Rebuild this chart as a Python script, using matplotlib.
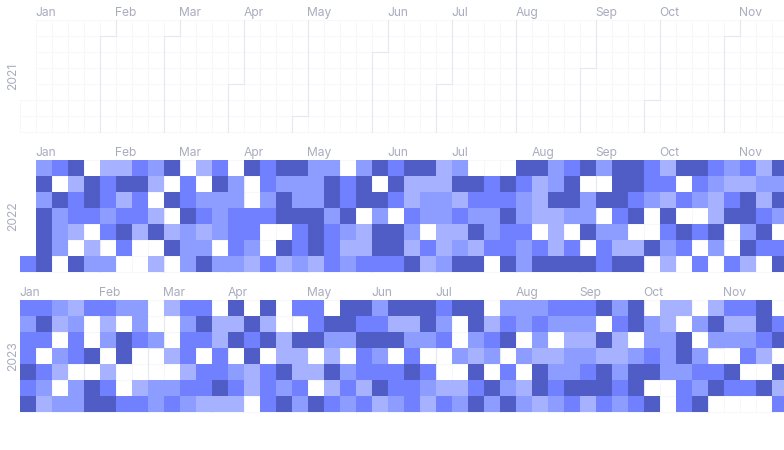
import datetime
import numpy as np
import matplotlib
matplotlib.use('Agg')
import matplotlib.pyplot as plt
from matplotlib.colors import ListedColormap
from matplotlib.patches import Rectangle

plt.rcParams['font.family'] = ['Inter', 'DejaVu Sans']

mois = ['Jan', 'Feb', 'Mar', 'Apr', 'May', 'Jun', 'Jul', 'Aug', 'Sep', 'Oct', 'Nov', 'Dec']
annees = [2021, 2022, 2023]
couleurs = ['#a6b2ff', '#8c9cff', '#7080ff', '#505dc6']

# niveaux, une liste par jour de la semaine (dimanche en haut)
# 0 = pas de valeur, -1 = jour hors de l'annee
niveaux_2022 = [
    [-1, 2, 3, 4, 0, 1, 1, 3, 2, 4, 0, 1, 3, 0, 4, 3, 4, 4, 2, 2, 0, 2, 4, 3, 4, 4, 1, 2, 0, 0, 0, 4, 4, 2, 3, 4, 2, 4, 4, 3, 1, 4, 4, 3, 2, 3, 1, 4],
    [-1, 4, 0, 1, 4, 3, 4, 4, 1, 0, 3, 0, 4, 2, 0, 3, 2, 2, 2, 4, 3, 4, 0, 4, 1, 1, 1, 4, 4, 3, 4, 3, 1, 2, 4, 0, 0, 4, 4, 3, 3, 0, 3, 2, 1, 1, 2, 2],
    [-1, 2, 4, 3, 4, 3, 1, 3, 0, 4, 3, 2, 2, 2, 0, 2, 4, 2, 2, 4, 3, 4, 4, 3, 1, 2, 2, 1, 3, 3, 3, 2, 1, 4, 4, 2, 4, 4, 3, 2, 1, 3, 2, 1, 3, 4, 1, 4],
    [-1, 4, 2, 3, 3, 2, 3, 3, 1, 0, 4, 3, 2, 3, 3, 3, 4, 4, 4, 2, 4, 0, 2, 0, 3, 2, 2, 3, 2, 2, 4, 2, 1, 1, 2, 2, 0, 3, 4, 0, 4, 0, 0, 1, 4, 4, 3, 2],
    [-1, 4, 2, 1, 0, 3, 4, 1, 4, 1, 2, 1, 2, 3, 3, 0, 0, 3, 4, 3, 2, 1, 4, 4, 2, 0, 1, 1, 4, 2, 3, 3, 0, 1, 0, 4, 2, 2, 0, 0, 3, 4, 3, 4, 0, 2, 4, 0],
    [-1, 4, 2, 0, 1, 0, 3, 0, 0, 4, 2, 2, 0, 3, 2, 0, 4, 3, 4, 3, 1, 1, 4, 4, 1, 3, 1, 2, 1, 3, 3, 2, 3, 1, 3, 0, 3, 1, 1, 4, 2, 3, 0, 2, 0, 4, 3, 3],
    [3, 4, 0, 4, 2, 2, 0, 0, 1, 0, 2, 4, 2, 2, 1, 3, 1, 2, 1, 3, 2, 3, 3, 3, 4, 1, 2, 4, 4, 0, 4, 2, 4, 4, 4, 4, 3, 4, 4, 0, 1, 0, 3, 0, 3, 1, 0, 4],
]
niveaux_2023 = [
    [3, 3, 2, 1, 3, 3, 2, 2, 0, 1, 3, 3, 0, 4, 0, 4, 0, 3, 3, 0, 4, 4, 2, 4, 4, 4, 3, 4, 4, 0, 2, 2, 2, 3, 3, 3, 4, 2, 4, 0, 1, 1, 0, 1, 3, 3, 4, 0],
    [2, 4, 1, 2, 0, 1, 0, 2, 0, 0, 2, 4, 1, 1, 4, 1, 0, 0, 3, 4, 4, 3, 3, 1, 1, 4, 2, 0, 4, 1, 3, 2, 3, 2, 2, 2, 0, 3, 4, 2, 1, 0, 2, 4, 1, 1, 4, 3],
    [3, 3, 0, 3, 0, 2, 4, 3, 2, 0, 3, 3, 1, 4, 3, 4, 1, 4, 4, 2, 2, 4, 4, 4, 2, 2, 3, 0, 2, 3, 4, 0, 2, 0, 1, 1, 4, 1, 0, 2, 2, 4, 0, 2, 2, 2, 3, 4],
    [3, 0, 2, 3, 4, 0, 4, 0, 0, 1, 3, 0, 3, 0, 4, 0, 1, 1, 0, 1, 0, 3, 2, 0, 3, 0, 0, 2, 1, 2, 0, 2, 1, 1, 2, 2, 1, 1, 2, 3, 2, 4, 2, 0, 0, 3, 1, 0],
    [4, 3, 1, 0, 0, 1, 0, 0, 0, 0, 1, 3, 3, 2, 1, 3, 4, 1, 1, 4, 2, 3, 3, 3, 4, 3, 0, 0, 4, 0, 3, 0, 4, 2, 2, 3, 4, 2, 4, 4, 2, 2, 3, 3, 4, 0, 0, 4],
    [3, 2, 0, 2, 4, 3, 0, 1, 2, 2, 3, 3, 4, 3, 1, 3, 2, 3, 0, 1, 3, 1, 4, 3, 3, 2, 1, 1, 3, 4, 2, 1, 4, 3, 4, 4, 4, 3, 4, 0, 0, 3, 2, 4, 3, 3, 4, 1],
    [4, 1, 2, 2, 4, 4, 3, 3, 2, 3, 2, 1, 1, 1, 0, 3, 4, 2, 4, 3, 2, 3, 1, 2, 3, 1, 3, 2, 4, 2, 4, 2, 1, 2, 3, 1, 3, 2, 3, 4, 0, 3, 4, 0, 0, 0, 0, 3],
]
niveaux = {2022: niveaux_2022, 2023: niveaux_2023}

taille = 16  # largeur d'une case en pixels
gauche = 20
hauts = {2021: 20, 2022: 160, 2023: 300}

def position(jour):  # colonne et ligne d'une date dans le calendrier
    debut = datetime.date(jour.year, 1, 1)
    decalage = (debut.weekday() + 1) % 7
    n = (jour - debut).days + decalage
    return n // 7, n % 7

fig = plt.figure(figsize=(7.84, 4.5), dpi=100)
ax = fig.add_axes([0, 0, 1, 1])
ax.set_xlim(0, 784)
ax.set_ylim(450, 0)
ax.axis('off')

for annee in annees:
    haut = hauts[annee]

    # les cases de tous les jours de l'annee
    jour = datetime.date(annee, 1, 1)
    while jour.year == annee:
        c, l = position(jour)
        ax.add_patch(Rectangle((gauche + c * taille, haut + l * taille), taille, taille,
                               fill=False, edgecolor='#f6f7fa', lw=0.72, zorder=1))
        jour += datetime.timedelta(days=1)

    # separations et noms des mois
    for m in range(12):
        premier = datetime.date(annee, m + 1, 1)
        c, l = position(premier)
        if m > 0:
            xs = [c, c, c + 1, c + 1] if l > 0 else [c, c]
            ys = [7, l, l, 0] if l > 0 else [7, 0]
            ax.plot([gauche + x * taille for x in xs], [haut + y * taille for y in ys],
                    color='#e8e9f0', lw=0.9, zorder=2, solid_joinstyle='miter')
        col_label = c if l == 0 else c + 1
        x_label = gauche + col_label * taille
        if x_label < 770:  # decembre tombe hors de l'image
            ax.text(x_label - 0.5, haut - 4, mois[m], fontsize=8.7,
                    color='#a9acbd', ha='left', va='baseline')

    ax.text(13, haut + 3.5 * taille, str(annee), fontsize=8.7, color='#a9acbd',
            rotation=90, ha='center', va='center')

    # les cases colorees
    if annee in niveaux:
        valeurs = np.array(niveaux[annee], dtype=float)
        valeurs = np.ma.masked_where(valeurs <= 0, valeurs)
        xe = gauche + np.arange(valeurs.shape[1] + 1) * taille
        ye = haut + np.arange(8) * taille
        ax.pcolormesh(xe, ye, valeurs, cmap=ListedColormap(couleurs), vmin=0.5, vmax=4.5,
                      zorder=3, antialiased=False, linewidth=0)

fig.savefig('out.png', dpi=100, facecolor='white')
